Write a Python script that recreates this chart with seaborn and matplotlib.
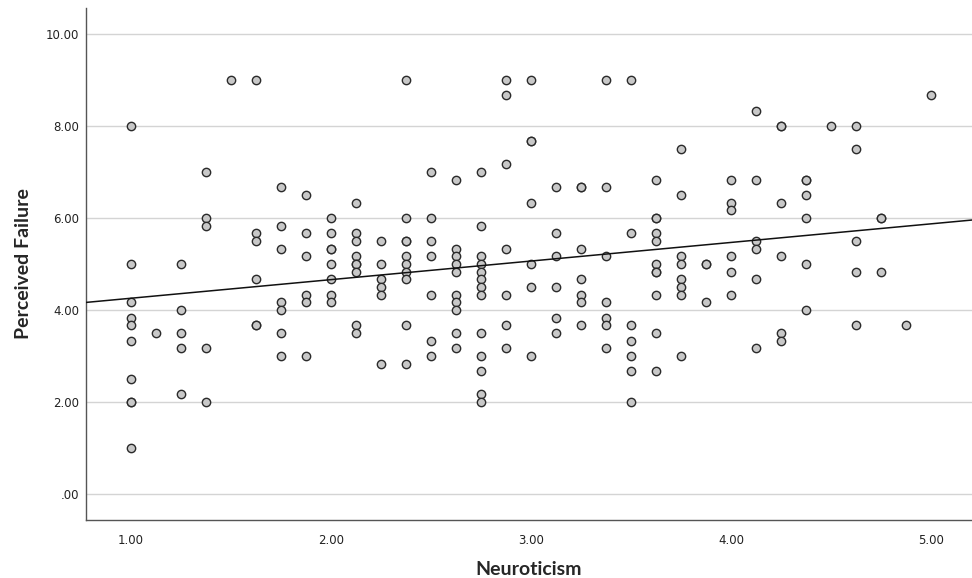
import matplotlib
matplotlib.use('Agg')
import matplotlib.pyplot as plt
import seaborn as sns
import pandas as pd

# Neuroticism score (x) and Perceived Failure score (y), read column by column
neuroticism = (
    [1.0] * 10 + [1.125] * 1 + [1.25] * 5 + [1.375] * 5 + [1.5] * 1
    + [1.625] * 6 + [1.75] * 7 + [1.875] * 6 + [2.0] * 8 + [2.125] * 9
    + [2.25] * 6 + [2.375] * 10 + [2.5] * 7 + [2.625] * 10 + [2.75] * 13
    + [2.875] * 7 + [3.0] * 7 + [3.125] * 6 + [3.25] * 7 + [3.375] * 7
    + [3.5] * 7 + [3.625] * 11 + [3.75] * 8 + [3.875] * 3 + [4.0] * 6
    + [4.125] * 6 + [4.25] * 6 + [4.375] * 6 + [4.5] * 1 + [4.625] * 5
    + [4.75] * 3 + [4.875] * 1 + [5.0] * 1
)
perceived_failure = [
    8.0, 5.0, 4.17, 3.83, 3.67, 3.33, 2.5, 2.0, 2.0, 1.0,      # 1.000
    3.5,                                                        # 1.125
    5.0, 4.0, 3.5, 3.17, 2.17,                                  # 1.250
    7.0, 6.0, 5.83, 3.17, 2.0,                                  # 1.375
    9.0,                                                        # 1.500
    9.0, 5.67, 5.5, 4.67, 3.67, 3.67,                           # 1.625
    6.67, 5.83, 5.33, 4.17, 4.0, 3.5, 3.0,                      # 1.750
    6.5, 5.67, 5.17, 4.33, 4.17, 3.0,                           # 1.875
    6.0, 5.67, 5.33, 5.33, 5.0, 4.67, 4.33, 4.17,               # 2.000
    6.33, 5.67, 5.5, 5.17, 5.0, 5.0, 4.83, 3.67, 3.5,           # 2.125
    5.5, 5.0, 4.67, 4.5, 4.33, 2.83,                            # 2.250
    9.0, 6.0, 5.5, 5.5, 5.17, 5.0, 4.83, 4.67, 3.67, 2.83,      # 2.375
    7.0, 6.0, 5.5, 5.17, 4.33, 3.33, 3.0,                       # 2.500
    6.83, 5.33, 5.17, 5.0, 4.83, 4.33, 4.17, 4.0, 3.5, 3.17,    # 2.625
    7.0, 5.83, 5.17, 5.0, 4.83, 4.67, 4.5, 4.33, 3.5, 3.0,
    2.67, 2.17, 2.0,                                            # 2.750
    9.0, 8.67, 7.17, 5.33, 4.33, 3.67, 3.17,                    # 2.875
    9.0, 7.67, 7.67, 6.33, 5.0, 4.5, 3.0,                       # 3.000
    6.67, 5.67, 5.17, 4.5, 3.83, 3.5,                           # 3.125
    6.67, 6.67, 5.33, 4.67, 4.33, 4.17, 3.67,                   # 3.250
    9.0, 6.67, 5.17, 4.17, 3.83, 3.67, 3.17,                    # 3.375
    9.0, 5.67, 3.67, 3.33, 3.0, 2.67, 2.0,                      # 3.500
    6.83, 6.0, 6.0, 5.67, 5.5, 5.0, 4.83, 4.83, 4.33, 3.5, 2.67,  # 3.625
    7.5, 6.5, 5.17, 5.0, 4.67, 4.5, 4.33, 3.0,                  # 3.750
    5.0, 5.0, 4.17,                                             # 3.875
    6.83, 6.33, 6.17, 5.17, 4.83, 4.33,                         # 4.000
    8.33, 6.83, 5.5, 5.33, 4.67, 3.17,                          # 4.125
    8.0, 8.0, 6.33, 5.17, 3.5, 3.33,                            # 4.250
    6.83, 6.83, 6.5, 6.0, 5.0, 4.0,                             # 4.375
    8.0,                                                        # 4.500
    8.0, 7.5, 5.5, 4.83, 3.67,                                  # 4.625
    6.0, 6.0, 4.83,                                             # 4.750
    3.67,                                                       # 4.875
    8.67,                                                       # 5.000
]

x_ticks = [1, 2, 3, 4, 5]
x_labels = ['1.00', '2.00', '3.00', '4.00', '5.00']
y_ticks = [0, 2, 4, 6, 8, 10]
y_labels = ['.00', '2.00', '4.00', '6.00', '8.00', '10.00']

df = pd.DataFrame({'Neuroticism': neuroticism, 'Perceived Failure': perceived_failure})

sns.set_style('white')
plt.rcParams['font.family'] = ['DejaVu Sans']

fig = plt.figure(figsize=(9.72, 5.78), dpi=100)
ax = fig.add_axes([0.0885, 0.1003, 0.9115, 0.8857])
ax.set_xlim(0.775, 5.205)
ax.set_ylim(-0.565, 10.565)

# horizontal grid lines
ax.set_yticks(y_ticks)
ax.yaxis.grid(True, color='#d4d4d4', linewidth=1.0)
ax.set_axisbelow(True)

sns.regplot(data=df, x='Neuroticism', y='Perceived Failure', ax=ax, ci=None,
            truncate=False,
            scatter_kws=dict(s=36, facecolor='#c8c8c8', edgecolor='#2a2a2a',
                             linewidths=1.0, alpha=1, zorder=3),
            line_kws=dict(color='#111111', linewidth=1.1, zorder=4))

ax.set_xlim(0.775, 5.205)
ax.set_ylim(-0.565, 10.565)
ax.set_xticks(x_ticks)
ax.set_xticklabels(x_labels)
ax.set_yticks(y_ticks)
ax.set_yticklabels(y_labels)
ax.tick_params(axis='both', length=0, labelsize=8.5, colors='#222222')
ax.tick_params(axis='x', pad=10)
ax.tick_params(axis='y', pad=5)

for side in ['top', 'right']:
    ax.spines[side].set_visible(False)
for side in ['left', 'bottom']:
    ax.spines[side].set_color('#555555')
    ax.spines[side].set_linewidth(1.0)

ax.set_xlabel('Neuroticism', fontsize=14, fontweight='bold', family='Lato', labelpad=10)
ax.set_ylabel('Perceived Failure', fontsize=14, fontweight='bold', family='Lato', labelpad=10)

fig.savefig('out.png', dpi=100)
